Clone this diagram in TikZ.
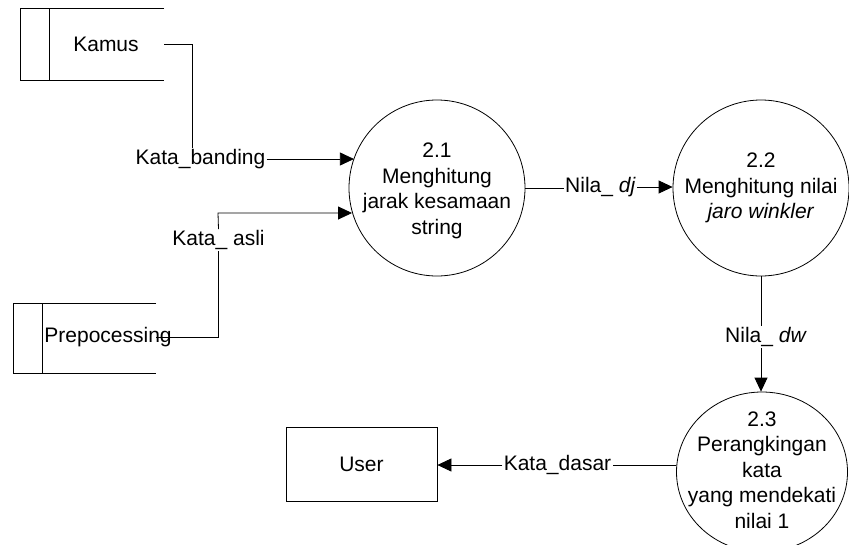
\documentclass[tikz,border=0pt]{standalone}
\usepackage{fontspec}
\setmainfont{Liberation Sans}
\usetikzlibrary{arrows.meta,shapes.geometric}

\tikzset{
  base/.style={font=\fontsize{21}{25.5}\selectfont},
  lbl/.style={base, inner sep=1pt, text height=15pt, text depth=4pt},
  proc/.style={draw, circle, minimum size=176pt, inner sep=0pt},
  proctext/.style={base, align=center, inner sep=0pt},
  entity/.style={draw, rectangle, minimum width=151pt, minimum height=74pt, base},
  conn/.style={line width=0.8pt},
  flow/.style={conn, -{Triangle[length=14pt,width=13pt]}},
}

\begin{document}
\begin{tikzpicture}[x=1pt, y=-1pt, line width=0.8pt]
\useasboundingbox (0,0) rectangle (849,544);

% data store: Kamus
\draw (164,8) -- (20,8) -- (20,80) -- (164,80);
\draw (49,8) -- (49,80);
\node[base] (kamus) at (106,44) {Kamus};
\coordinate (kamusOut) at (164,44);

% data store: Prepocessing
\draw (156,303) -- (13,303) -- (13,373) -- (156,373);
\draw (42,303) -- (42,373);
\node[base, anchor=west, inner sep=0pt] (prep) at (44,337) {Prepocessing};
\coordinate (prepOut) at (156,337);

% processes
\node[proc] (p21) at (437,188) {};
\node[proctext] (p21t) at (437,191) {2.1\\Menghitung\\jarak kesamaan\\string};

\node[proc] (p22) at (761,188) {};
\node[proctext] (p22t) at (761,188) {2.2\\Menghitung nilai\\\textit{jaro winkler}};

\node[draw, ellipse, minimum width=171pt, minimum height=160pt, inner sep=0pt] (p23) at (762,472) {};
\node[proctext] (p23t) at (762,470) {2.3\\Perangkingan\\kata\\yang mendekati\\nilai 1};

% external entity
\node[entity] (user) at (361.5,464) {User};

% flow labels
\node[lbl] (kb) at (200.5,159) {Kata\_banding};
\node[lbl] (ka) at (218.5,240) {Kata\_ asli};
\node[lbl] (ndj) at (600.5,187) {Nila\_ \textit{dj}};
\node[lbl] (ndw) at (766,337) {Nila\_ \textit{dw}};
\node[lbl] (kd) at (557.5,465) {Kata\_dasar};

% flows
\coordinate (kbTop) at (192,148);
\draw[conn] (kamusOut) -| (kbTop);
\draw[flow] (kb.east) -- (kb.east -| p21.160.8);

\coordinate (kaTop) at (218,213);
\draw[conn] (prepOut) -| (ka.south);
\draw[flow] (ka.north) -- (kaTop) -- (kaTop -| p21.196.5);

\draw[conn] (p21.east) -- (p21.east -| ndj.west);
\draw[flow] (ndj.east) -- (ndj.east -| p22.west);

\draw[conn] (p22.south) -- (p22.south |- ndw.north);
\draw[flow] (p22.south |- ndw.south) -- (p22.south |- p23.north);

\draw[conn] (kd.east -| p23.west) -- (kd.east);
\draw[flow] (kd.west) -- (kd.west -| user.east);
\end{tikzpicture}
\end{document}
